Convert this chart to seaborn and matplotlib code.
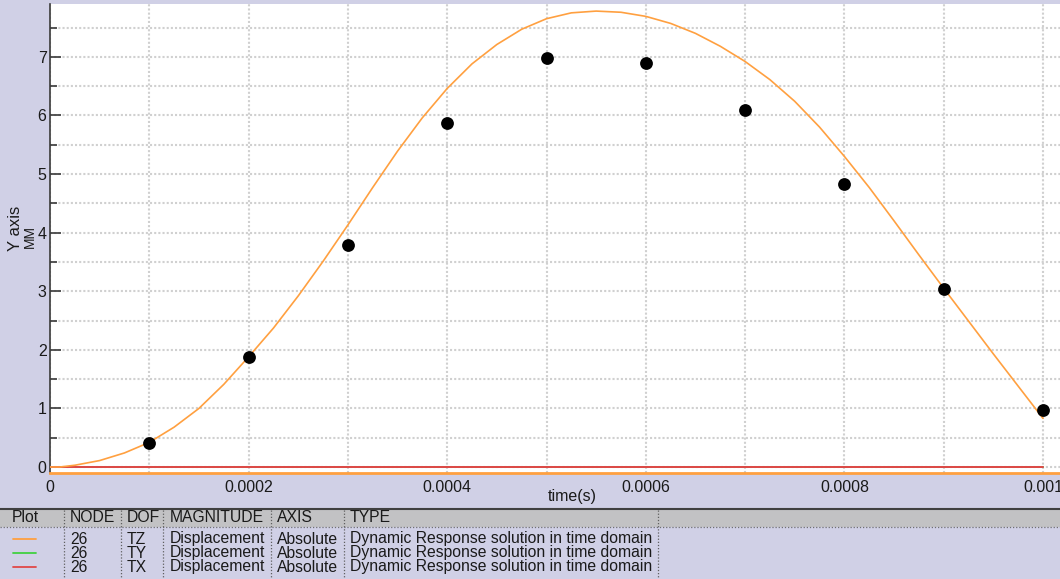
import matplotlib
matplotlib.use("Agg")
import matplotlib.pyplot as plt
from matplotlib.ticker import FixedLocator, FixedFormatter, MultipleLocator
import pandas as pd
import seaborn as sns

# ---- data -------------------------------------------------------------
# TZ displacement response curve (time in s, displacement in MM)
curve_t = [0.0, 0.00001, 0.000025, 0.00005, 0.000075, 0.0001, 0.000125, 0.00015,
           0.000175, 0.0002, 0.000225, 0.00025, 0.000275, 0.0003, 0.000325,
           0.00035, 0.000375, 0.0004, 0.000425, 0.00045, 0.000475, 0.0005,
           0.000525, 0.00055, 0.000575, 0.0006, 0.000625, 0.00065, 0.000675,
           0.0007, 0.000725, 0.00075, 0.000775, 0.0008, 0.000825, 0.00085,
           0.000875, 0.0009, 0.000925, 0.00095, 0.000975, 0.001]
curve_tz = [0.0, 0.0, 0.03, 0.11, 0.24, 0.42, 0.68, 1.00,
            1.41, 1.88, 2.37, 2.92, 3.51, 4.13, 4.77,
            5.39, 5.96, 6.46, 6.88, 7.21, 7.47, 7.65,
            7.75, 7.78, 7.76, 7.69, 7.57, 7.40, 7.18,
            6.92, 6.61, 6.24, 5.80, 5.30, 4.77, 4.20,
            3.62, 3.05, 2.49, 1.93, 1.38, 0.83]

# TY and TX responses stay at zero over the window
flat_t = [0.0, 0.001]
flat_ty = [0.0, 0.0]
flat_tx = [0.0, 0.0]

# Reference measurement points
point_t = [0.0001, 0.0002, 0.0003, 0.0004, 0.0005, 0.0006, 0.0007, 0.0008, 0.0009, 0.001]
point_v = [0.41, 1.87, 3.79, 5.87, 6.98, 6.89, 6.09, 4.83, 3.04, 0.97]

x_ticks = [0.0, 0.0002, 0.0004, 0.0006, 0.0008, 0.001]
x_tick_labels = ["0", "0.0002", "0.0004", "0.0006", "0.0008", "0.001"]
y_ticks = [0, 1, 2, 3, 4, 5, 6, 7]

x_label = "time(s)"
y_label = "Y axis"
y_unit = "MM"

table_header = ["Plot", "NODE", "DOF", "MAGNITUDE", "AXIS", "TYPE"]
table_nodes = ["26", "26", "26"]
table_dofs = ["TZ", "TY", "TX"]
table_magnitude = ["Displacement", "Displacement", "Displacement"]
table_axis = ["Absolute", "Absolute", "Absolute"]
table_type = ["Dynamic Response solution in time domain"] * 3

# ---- styling ----------------------------------------------------------
sns.set_theme(style="white")
plt.rcParams["font.family"] = ["Liberation Sans", "DejaVu Sans"]

LAV = "#d0d0e6"
ORANGE = "#ffa040"
GREEN = "#40d040"
RED = "#e04848"
GRID = "#d0d0d0"
TEXT = "#1a1a1a"

W, H = 1060, 579
fig = plt.figure(figsize=(W / 100, H / 100), dpi=100, facecolor=LAV)


def fx(px):
    return px / W


def fy(py):
    return 1 - py / H


ax_left, ax_top, ax_bottom = 50, 4, 473
ax = fig.add_axes([fx(ax_left), fy(ax_bottom), 1 - fx(ax_left), (ax_bottom - ax_top) / H])
ax.set_facecolor("white")

df_curve = pd.DataFrame({"t": curve_t, "v": curve_tz})
df_ty = pd.DataFrame({"t": flat_t, "v": flat_ty})
df_tx = pd.DataFrame({"t": flat_t, "v": flat_tx})
df_pts = pd.DataFrame({"t": point_t, "v": point_v})

sns.lineplot(data=df_ty, x="t", y="v", ax=ax, color=GREEN, linewidth=1.4, zorder=3)
sns.lineplot(data=df_tx, x="t", y="v", ax=ax, color=RED, linewidth=1.4, zorder=3)
sns.lineplot(data=df_curve, x="t", y="v", ax=ax, color=ORANGE, linewidth=1.2, zorder=4)
sns.scatterplot(data=df_pts, x="t", y="v", ax=ax, color="black", s=85,
                edgecolor="black", linewidth=0, zorder=5)

# axis ranges: 0.001 s spans 993 px, 1 MM spans 58.6 px
ax.set_xlim(0, (W - ax_left) / 993000)
ax.set_ylim(-6 / 58.6, (467 - ax_top) / 58.6)

ax.xaxis.set_major_locator(FixedLocator(x_ticks))
ax.xaxis.set_major_formatter(FixedFormatter(x_tick_labels))
ax.xaxis.set_minor_locator(MultipleLocator(0.0001))
ax.yaxis.set_major_locator(FixedLocator(y_ticks))
ax.yaxis.set_minor_locator(MultipleLocator(0.5))

ax.grid(which="both", axis="both", color=GRID, linestyle=(0, (1, 1)), linewidth=1.5)
ax.set_axisbelow(True)

for side in ("top", "right"):
    ax.spines[side].set_visible(False)
ax.spines["left"].set_color("#3a3a3a")
ax.spines["left"].set_linewidth(1.2)
ax.spines["bottom"].set_color(ORANGE)
ax.spines["bottom"].set_linewidth(2.0)

ax.tick_params(axis="x", which="both", direction="in", color=ORANGE, length=5, width=1.2,
               labelsize=11.5, labelcolor=TEXT, pad=5)
ax.tick_params(axis="y", which="major", direction="in", color="#3a3a3a", length=8, width=1.2,
               labelsize=11.5, labelcolor=TEXT, pad=2.5, left=True)
ax.tick_params(axis="y", which="minor", direction="in", color="#3a3a3a", length=5, width=1.2,
               left=True)

ax.set_xlabel(x_label, fontsize=11.5, color=TEXT)
ax.xaxis.set_label_coords((572 - ax_left) / (W - ax_left), (ax_bottom - 497) / (ax_bottom - ax_top))
ax.xaxis.label.set_va("center")
ax.set_ylabel("")

fig.text(fx(15), fy(228), y_label, rotation=90, fontsize=12, color=TEXT, ha="center", va="center")
fig.text(fx(30), fy(236), y_unit, rotation=90, fontsize=10, color=TEXT, ha="center", va="center")

# ---- table of plotted series -----------------------------------------
hdr_top, hdr_bot = 509, 527
fig.patches.append(plt.Rectangle((0, fy(hdr_bot)), 1, fy(hdr_top) - fy(hdr_bot),
                                 transform=fig.transFigure, facecolor="#c2c2c4",
                                 edgecolor="none", zorder=1))
fig.add_artist(plt.Line2D([0, 1], [fy(hdr_top), fy(hdr_top)], transform=fig.transFigure,
                          color="#404040", linewidth=1.5))
fig.add_artist(plt.Line2D([0, 1], [fy(hdr_bot), fy(hdr_bot)], transform=fig.transFigure,
                          color="#707070", linewidth=0.9, linestyle=(0, (1, 1.5))))

col_sep = [64, 121, 163, 271, 344, 658]
for xs in col_sep:
    fig.add_artist(plt.Line2D([fx(xs), fx(xs)], [fy(hdr_top + 1), 0], transform=fig.transFigure,
                              color="#606060", linewidth=0.9, linestyle=(0, (1, 1.5))))

col_x = [12, 70, 127, 170, 277, 350]
for xpos, label in zip(col_x, table_header):
    fig.text(fx(xpos), fy(518), label, fontsize=11.3, color=TEXT, ha="left", va="center")

row_y = [539, 553, 567]
row_colors = [ORANGE, GREEN, RED]
for i, ry in enumerate(row_y):
    fig.add_artist(plt.Line2D([fx(13), fx(36)], [fy(ry), fy(ry)], transform=fig.transFigure,
                              color=row_colors[i], linewidth=1.3))
    cells = [table_nodes[i], table_dofs[i], table_magnitude[i], table_axis[i], table_type[i]]
    for xpos, txt in zip(col_x[1:], cells):
        fig.text(fx(xpos), fy(ry), txt, fontsize=11.3, color=TEXT, ha="left", va="center")

fig.savefig("out.png", dpi=100, facecolor=LAV)
